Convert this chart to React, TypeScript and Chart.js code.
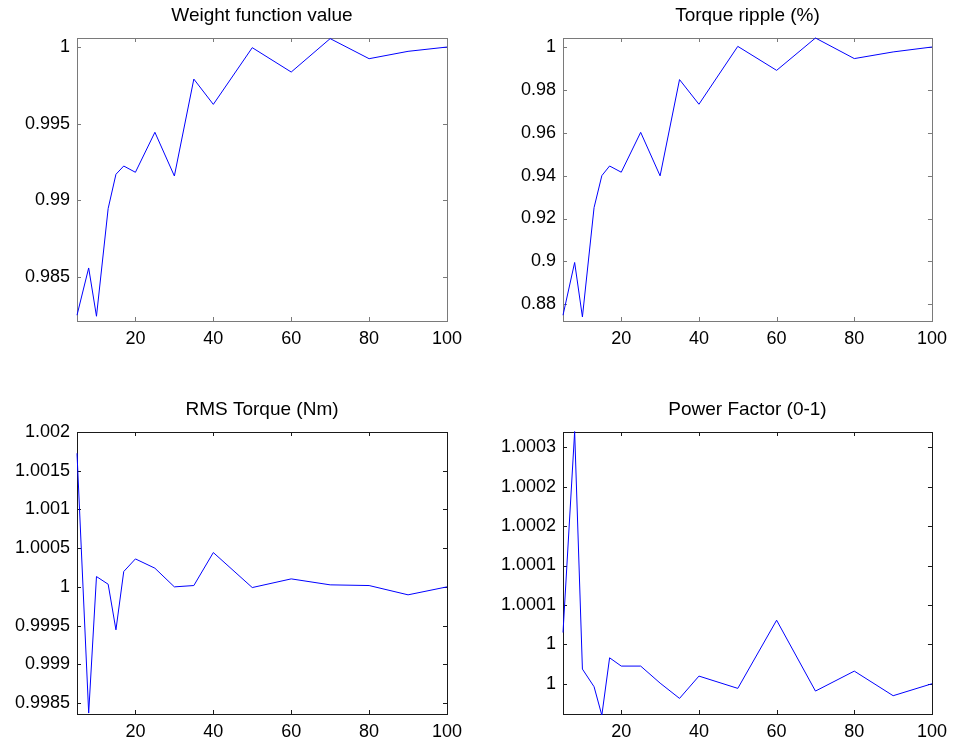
import React, { useEffect, useRef } from "react";
import { Chart, registerables } from "chart.js";

Chart.register(...registerables);

const xValues = [5, 8, 10, 13, 15, 17, 20, 25, 30, 35, 40, 50, 60, 70, 80, 90, 100];

const weightValues = [0.98251, 0.98559, 0.98244, 0.98947, 0.9917, 0.99224, 0.99183, 0.99444, 0.99159, 0.99791, 0.99626, 0.99996, 0.99837, 1.00055, 0.99924, 0.99972, 1.0];
const rippleValues = [0.8749, 0.8995, 0.8741, 0.9251, 0.94, 0.9445, 0.9416, 0.9602, 0.9399, 0.9848, 0.9733, 1.0003, 0.9891, 1.0042, 0.9946, 0.9977, 1.0];
const rmsValues = [1.001725, 0.99837, 1.000133, 1.000034, 0.999445, 1.000198, 1.000361, 1.000241, 1.0, 1.000017, 1.000443, 0.999991, 1.000103, 1.000026, 1.000017, 0.999897, 1.0];
const pfValues = [1.000015, 1.00027, 0.9999686, 0.9999462, 0.99991, 0.9999829, 0.9999724, 0.9999724, 0.9999508, 0.9999314, 0.9999597, 0.9999441, 1.0000306, 0.9999407, 0.999966, 0.9999348, 0.99995];

const xTicks = [20, 40, 60, 80, 100];
const xTickLabels = ["20", "40", "60", "80", "100"];

const weightTicks = [0.985, 0.99, 0.995, 1.0];
const weightTickLabels = ["0.985", "0.99", "0.995", "1"];
const rippleTicks = [0.88, 0.9, 0.92, 0.94, 0.96, 0.98, 1.0];
const rippleTickLabels = ["0.88", "0.9", "0.92", "0.94", "0.96", "0.98", "1"];
const rmsTicks = [0.9985, 0.999, 0.9995, 1.0, 1.0005, 1.001, 1.0015, 1.002];
const rmsTickLabels = ["0.9985", "0.999", "0.9995", "1", "1.0005", "1.001", "1.0015", "1.002"];
const pfTicks = [0.99995, 1.0, 1.00005, 1.0001, 1.00015, 1.0002, 1.00025];
const pfTickLabels = ["1", "1", "1.0001", "1.0001", "1.0002", "1.0002", "1.0003"];

const FONT = "'Liberation Sans', Arial, Helvetica, sans-serif";

type Panel = {
  title: string;
  values: number[];
  yTicks: number[];
  yLabels: string[];
  yMin: number;
  yMax: number;
  left: number;
  top: number;
  yWidth: number;
  padRight: number;
  titleTop: number;
  titleBottom: number;
  xHeight: number;
  frameColor: string;
};

const panels: Panel[] = [
  { title: "Weight function value", values: weightValues, yTicks: weightTicks, yLabels: weightTickLabels, yMin: 0.98213, yMax: 1.00059, left: 0, top: 0, yWidth: 77, padRight: 30, titleTop: 4.6, titleBottom: 10.6, xHeight: 51, frameColor: "#7a7a7a" },
  { title: "Torque ripple (%)", values: rippleValues, yTicks: rippleTicks, yLabels: rippleTickLabels, yMin: 0.8722, yMax: 1.0042, left: 477, top: 0, yWidth: 86, padRight: 21, titleTop: 4.6, titleBottom: 10.6, xHeight: 51, frameColor: "#7a7a7a" },
  { title: "RMS Torque (Nm)", values: rmsValues, yTicks: rmsTicks, yLabels: rmsTickLabels, yMin: 0.998358, yMax: 1.002, left: 0, top: 372, yWidth: 77, padRight: 30, titleTop: 26.1, titleBottom: 11.1, xHeight: 30, frameColor: "#1a1a1a" },
  { title: "Power Factor (0-1)", values: pfValues, yTicks: pfTicks, yLabels: pfTickLabels, yMin: 0.9999116, yMax: 1.0002694, left: 477, top: 372, yWidth: 86, padRight: 21, titleTop: 26.1, titleBottom: 11.1, xHeight: 30, frameColor: "#1a1a1a" },
];

function makeFramePlugin(color: string) {
  return {
    id: "matlabFrame",
    beforeDatasetsDraw(chart: any) {
      const { ctx, chartArea, scales } = chart;
      const { left, right, top, bottom } = chartArea;
      const tl = 4;
      ctx.save();
      ctx.strokeStyle = color;
      ctx.lineWidth = 1;
      ctx.beginPath();
      scales.x.ticks.forEach((t: any) => {
        const px = Math.round(scales.x.getPixelForValue(t.value)) + 0.5;
        ctx.moveTo(px, bottom);
        ctx.lineTo(px, bottom - tl);
        ctx.moveTo(px, top);
        ctx.lineTo(px, top + tl);
      });
      scales.y.ticks.forEach((t: any) => {
        const py = Math.round(scales.y.getPixelForValue(t.value)) + 0.5;
        ctx.moveTo(left, py);
        ctx.lineTo(left + tl, py);
        ctx.moveTo(right, py);
        ctx.lineTo(right - tl, py);
      });
      ctx.stroke();
      ctx.strokeRect(Math.round(left) + 0.5, Math.round(top) + 0.5, Math.round(right - left), Math.round(bottom - top));
      ctx.restore();
    },
  };
}

function SubPlot({ p }: { p: Panel }) {
  const ref = useRef<HTMLCanvasElement | null>(null);
  useEffect(() => {
    if (!ref.current) return;
    const chart = new Chart(ref.current, {
      type: "line",
      data: {
        datasets: [
          {
            data: xValues.map((x, i) => ({ x, y: p.values[i] })),
            borderColor: "#0000ff",
            borderWidth: 1,
            pointRadius: 0,
            tension: 0,
            fill: false,
            clip: 1,
          },
        ],
      },
      options: {
        animation: false,
        responsive: false,
        maintainAspectRatio: false,
        events: [],
        layout: { padding: { left: 0, top: 0, right: p.padRight, bottom: 0 } },
        plugins: {
          legend: { display: false },
          tooltip: { enabled: false },
          title: {
            display: true,
            text: p.title,
            fullSize: false,
            color: "#000",
            font: { family: FONT, size: 19, weight: "normal", lineHeight: 1.2 },
            padding: { top: p.titleTop, bottom: p.titleBottom },
          },
        },
        scales: {
          x: {
            type: "linear",
            min: 5,
            max: 100,
            grid: { display: false, drawTicks: false },
            border: { display: false },
            afterBuildTicks: (scale: any) => {
              scale.ticks = xTicks.map((v) => ({ value: v }));
            },
            afterFit: (scale: any) => {
              scale.height = p.xHeight;
            },
            ticks: {
              autoSkip: false,
              maxRotation: 0,
              padding: 7,
              color: "#000",
              font: { family: FONT, size: 18 },
              callback: (_v: any, i: number) => xTickLabels[i],
            },
          },
          y: {
            type: "linear",
            min: p.yMin,
            max: p.yMax,
            grid: { display: false, drawTicks: false },
            border: { display: false },
            afterBuildTicks: (scale: any) => {
              scale.ticks = p.yTicks.map((v) => ({ value: v }));
            },
            afterFit: (scale: any) => {
              scale.width = p.yWidth;
            },
            ticks: {
              autoSkip: false,
              padding: 7,
              color: "#000",
              font: { family: FONT, size: 18 },
              callback: (_v: any, i: number) => p.yLabels[i],
            },
          },
        },
      } as any,
      plugins: [makeFramePlugin(p.frameColor)],
    });
    return () => chart.destroy();
  }, [p]);
  return (
    <canvas
      ref={ref}
      width={477}
      height={372}
      style={{ position: "absolute", left: p.left, top: p.top, width: 477, height: 372 }}
    />
  );
}

export default function App() {
  return (
    <div style={{ position: "absolute", left: 0, top: 0, width: 954, height: 744, background: "#fff", overflow: "hidden" }}>
      {panels.map((p, i) => (
        <SubPlot key={i} p={p} />
      ))}
    </div>
  );
}
